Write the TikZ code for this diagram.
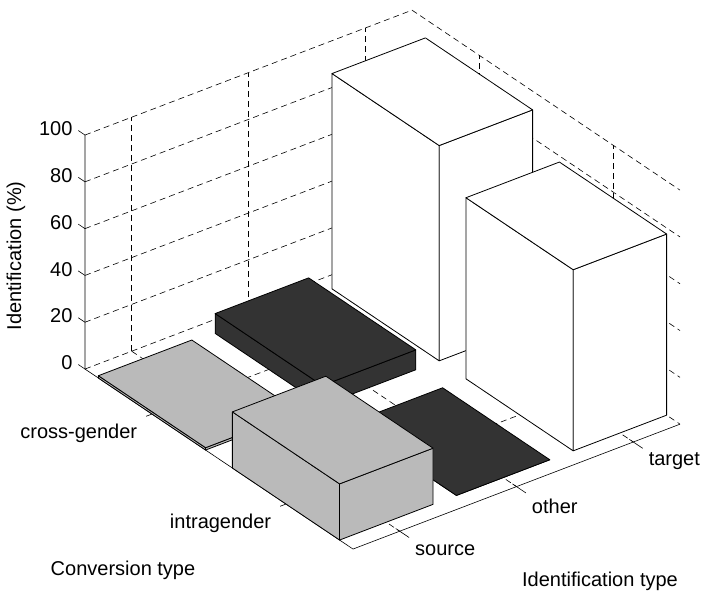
\documentclass[tikz,border=0pt]{standalone}
\usepackage{
	fontspec,			% System Fonts
	xcolor,
	tikz
}
\setmainfont{Liberation Sans}

\definecolor{barlight}{gray}{0.73}
\definecolor{bardark}{gray}{0.2}

\tikzset{
	gridline/.style={dash pattern=on 6pt off 4pt, line width=0.6pt},
	axisline/.style={line width=0.6pt},
	barface/.style={draw=black, line width=0.8pt, line join=round},
	ticklabel/.style={inner sep=3pt}
}

% one bar of the 3-D chart: centre x, centre y, height, fill
\newcommand{\drawbar}[4]{
	\filldraw[barface, fill=#4] ({#1-0.4},{#2-0.4},0) -- ({#1-0.4},{#2+0.4},0) -- ({#1-0.4},{#2+0.4},#3) -- ({#1-0.4},{#2-0.4},#3) -- cycle;
	\filldraw[barface, fill=#4] ({#1-0.4},{#2+0.4},0) -- ({#1+0.4},{#2+0.4},0) -- ({#1+0.4},{#2+0.4},#3) -- ({#1-0.4},{#2+0.4},#3) -- cycle;
	\filldraw[barface, fill=#4] ({#1-0.4},{#2-0.4},#3) -- ({#1-0.4},{#2+0.4},#3) -- ({#1+0.4},{#2+0.4},#3) -- ({#1+0.4},{#2-0.4},#3) -- cycle;
}

\begin{document}
\begin{tikzpicture}[x=1pt, y=-1pt, font=\fontsize{20}{24}\selectfont]
	\useasboundingbox (0,0) rectangle (703,596);
	\begin{scope}[shift={(-52.1pt,-350.8pt)}, x={(116.8pt,44.6pt)}, y={(134pt,-90pt)}, z={(0pt,2.34pt)}]
		% back walls and floor grid
		\foreach \zz in {0,20,...,100}
			\draw[gridline] (0.6,0.5,\zz) -- (3.4,0.5,\zz) -- (3.4,2.5,\zz);
		\foreach \xx in {1,2,3} {
			\draw[gridline] (\xx,0.5,0) -- (\xx,0.5,100);
			\draw[gridline] (\xx,0.5,0) -- (\xx,2.5,0);
		}
		\foreach \yy in {1,2} {
			\draw[gridline] (3.4,\yy,0) -- (3.4,\yy,100);
			\draw[gridline] (0.6,\yy,0) -- (3.4,\yy,0);
		}

		% axes and ticks
		\draw[axisline] (0.6,0.5,100) -- (0.6,0.5,0) -- (0.6,2.5,0) -- (3.4,2.5,0);
		\foreach \zz in {0,20,...,100} {
			\draw[axisline] (0.6,0.5,\zz) -- (0.6,0.45,\zz);
			\node[ticklabel, anchor=east] (zlab\zz) at (0.6,0.43,\zz) {\zz};
		}
		\foreach \yy/\conv in {1/cross-gender, 2/intragender} {
			\draw[axisline] (0.6,\yy,0) -- (0.55,\yy,0);
			\node[ticklabel, anchor=east] (conv\yy) at (0.38,{\yy+0.105},0) {\conv};
		}
		\foreach \xx/\ident in {1/source, 2/other, 3/target} {
			\draw[axisline] (\xx,2.47,0) -- (\xx,2.57,0);
			\node[ticklabel, anchor=west] (ident\xx) at ({\xx-0.09},2.67,0) {\ident};
		}

		% bars, back row first
		\foreach \xc/\yc/\h/\col in {3/1/92/white, 2/1/8.5/bardark, 1/1/1/barlight,
			3/2/77.4/white, 2/2/0/bardark, 1/2/24/barlight} {
			\drawbar{\xc}{\yc}{\h}{\col}
		}
	\end{scope}

	\node (convtitle) at (123,570) {Conversion type};
	\node (identtitle) at (600,581) {Identification type};
	\node[rotate=90] (ztitle) at (16,256) {Identification (\%)};
\end{tikzpicture}
\end{document}
